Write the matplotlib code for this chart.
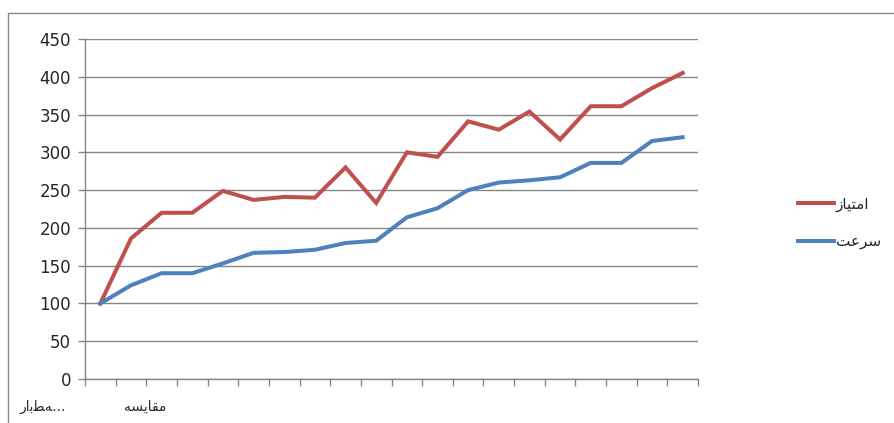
import matplotlib
matplotlib.use("Agg")
import matplotlib.pyplot as plt
from matplotlib.patches import Rectangle
from matplotlib.transforms import blended_transform_factory

# Arabic-script strings are written with presentation forms in visual order,
# since matplotlib does no shaping or bidi of its own.
score_label = "\uFEAF\uFE8E\uFEF4\uFE98\uFEE3\uFE8D"      # امتیاز
speed_label = "\uFE96\uFECB\uFEAE\uFEB3"                   # سرعت
cat_labels = ["\uFEAD\uFE8D\uFE91\uFEC4\uFEEA...",         # رابطه...
              "\uFEEA\uFEB4\uFEF3\uFE8E\uFED8\uFEE3"]      # مقایسه

score = [100, 186, 220, 220, 249, 237, 241, 240, 280, 233,
         300, 294, 341, 330, 354, 317, 361, 361, 385, 405]
speed = [100, 124, 140, 140, 153, 167, 168, 171, 180, 183,
         214, 226, 250, 260, 263, 267, 286, 286, 315, 320]
y_ticks = [0, 50, 100, 150, 200, 250, 300, 350, 400, 450]

W, H = 894, 423
fig = plt.figure(figsize=(W / 100, H / 100), dpi=100)
fig.patch.set_facecolor("white")
ax = fig.add_axes([85 / W, 1 - 379 / H, 613 / W, 340 / H])

x = list(range(len(score)))
ax.plot(x, score, color="#C0504D", lw=2.9, solid_joinstyle="miter", label=score_label, zorder=3)
ax.plot(x, speed, color="#4F81BD", lw=2.9, solid_joinstyle="miter", label=speed_label, zorder=3)

ax.set_xlim(-0.5, len(score) - 0.5)
ax.set_ylim(0, 450)
ax.set_yticks(y_ticks)
ax.set_xticks([i - 0.5 for i in range(len(score) + 1)])
ax.set_xticklabels([])
ax.yaxis.grid(True, color="#868686", lw=1)
ax.set_axisbelow(True)

for side in ["top", "right"]:
    ax.spines[side].set_visible(False)
for side in ["left", "bottom"]:
    ax.spines[side].set_color("#868686")
    ax.spines[side].set_linewidth(1)
ax.tick_params(axis="both", direction="out", length=5, width=1, color="#868686")
ax.tick_params(axis="y", labelsize=12, pad=5, labelcolor="#262626")

# only two category labels survive in the original
trans = blended_transform_factory(ax.transData, ax.transAxes)
ax.text(-1.87, -0.082, cat_labels[0], transform=trans, ha="center", va="center",
        fontsize=10, color="#262626")
ax.text(1.46, -0.082, cat_labels[1], transform=trans, ha="center", va="center",
        fontsize=10, color="#262626")

leg = ax.legend(loc="upper left", bbox_to_anchor=(790 / W, 1 - 189 / H),
                bbox_transform=fig.transFigure, frameon=False, fontsize=11,
                handlelength=2.4, handletextpad=0.1, labelspacing=1.45,
                borderpad=0)
for t in leg.get_texts():
    t.set_color("#262626")

# chart frame
fig.add_artist(Rectangle((8 / W, -0.1), 1.2, 1 - 13 / H + 0.1,
                         transform=fig.transFigure, fill=False,
                         edgecolor="#888888", lw=1, clip_on=False))

fig.savefig("out.png", dpi=100)
